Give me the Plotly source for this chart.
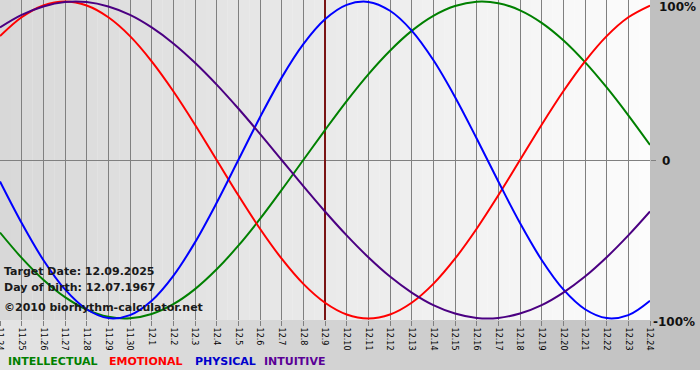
import plotly.graph_objects as go

# ---- data (values in %, one per day) ----
day_labels = ["11.24", "11.25", "11.26", "11.27", "11.28", "11.29", "11.30",
              "12.1", "12.2", "12.3", "12.4", "12.5", "12.6", "12.7", "12.8", "12.9",
              "12.10", "12.11", "12.12", "12.13", "12.14", "12.15", "12.16", "12.17",
              "12.18", "12.19", "12.20", "12.21", "12.22", "12.23", "12.24"]
target_label = "12.9"

intellectual = [-45.8, -61.8, -75.6, -86.6, -94.5, -99.0, -99.9, -97.2, -91.0, -81.5,
                -69.0, -54.1, -37.2, -18.9, 0.0, 18.9, 37.2, 54.1, 69.0, 81.5,
                91.0, 97.2, 99.9, 99.0, 94.5, 86.6, 75.6, 61.8, 45.8, 28.2, 9.5]
emotional = [78.2, 90.1, 97.5, 100.0, 97.5, 90.1, 78.2, 62.3, 43.4, 22.3,
             0.0, -22.3, -43.4, -62.3, -78.2, -90.1, -97.5, -100.0, -97.5, -90.1,
             -78.2, -62.3, -43.4, -22.3, 0.0, 22.3, 43.4, 62.3, 78.2, 90.1, 97.5]
physical = [-13.6, -39.8, -63.1, -81.7, -94.2, -99.8, -97.9, -88.8, -73.1, -52.0,
            -27.0, 0.0, 27.0, 52.0, 73.1, 88.8, 97.9, 99.8, 94.2, 81.7,
            63.1, 39.8, 13.6, -13.6, -39.8, -63.1, -81.7, -94.2, -99.8, -97.9, -88.8]
intuitive = [83.7, 91.6, 96.9, 99.7, 99.7, 96.9, 91.6, 83.7, 73.6, 61.4,
             47.6, 32.5, 16.5, 0.0, -16.5, -32.5, -47.6, -61.4, -73.6, -83.7,
             -91.6, -96.9, -99.7, -99.7, -96.9, -91.6, -83.7, -73.6, -61.4, -47.6, -32.5]

series_names = ["INTELLECTUAL", "EMOTIONAL", "PHYSICAL", "INTUITIVE"]
series_colors = ["#008000", "#ff0000", "#0000ff", "#4b0082"]
legend_colors = ["#008000", "#ff0000", "#0000cc", "#5a0096"]

info_lines = ["Target Date: 12.09.2025", "Day of birth: 12.07.1967",
              "\u00a92010 biorhythm-calculator.net"]

# ---- layout geometry ----
W, H = 700, 380
PL, PR, PT, PB = 0, 50, 0, 60
PW = W - PL - PR   # 650
PH = H - PT - PB   # 320


def px(x):
    return (x - PL) / PW


def py(y):
    return (PT + PH - y) / PH


def gray(v):
    v = int(round(v))
    return f"rgb({v},{v},{v})"


xs = list(range(len(day_labels)))
n = len(xs) - 1
t_idx = day_labels.index(target_label)

fig = go.Figure()

# target date marker
fig.add_trace(go.Scatter(x=[t_idx, t_idx], y=[-101, 101], mode="lines",
                         line=dict(color="#7a1414", width=2),
                         hoverinfo="skip", showlegend=False))

for name, vals, col in zip(series_names, [intellectual, emotional, physical, intuitive],
                           series_colors):
    fig.add_trace(go.Scatter(x=xs, y=vals, mode="lines", name=name,
                             line=dict(color=col, width=2, shape="spline", smoothing=1.0),
                             showlegend=False))

shapes = []
# plot-area gradient (left gray -> right white)
N = 60
for k in range(N):
    x0 = n * k / N
    x1 = n * (k + 1) / N
    c = 216 + (252 - 216) * (k + 0.5) / N
    shapes.append(dict(type="rect", xref="x", yref="y", x0=x0, x1=x1 + 0.01,
                       y0=-101, y1=101, fillcolor=gray(c), line=dict(width=0),
                       layer="below"))
# right margin gray
shapes.append(dict(type="rect", xref="paper", yref="paper", x0=px(650), x1=px(701),
                   y0=py(321), y1=py(-1), fillcolor="#c0c0c0", line=dict(width=0),
                   layer="below"))
# bottom band gradient
M = 70
for k in range(M):
    x0 = 700 * k / M
    x1 = 700 * (k + 1) / M
    c = 228 + (192 - 228) * (k + 0.5) / M
    shapes.append(dict(type="rect", xref="paper", yref="paper", x0=px(x0), x1=px(x1 + 0.5),
                       y0=py(370), y1=py(320), fillcolor=gray(c), line=dict(width=0),
                       layer="below"))

annotations = []
# info text in plot
for i, txt in enumerate(info_lines):
    yy = [271, 287, 307][i]
    annotations.append(dict(text="<b>%s</b>" % txt, xref="paper", yref="paper",
                            x=px(2), y=py(yy),
                            xanchor="left", yanchor="middle", showarrow=False,
                            font=dict(family="DejaVu Sans", size=11, color="#1a1a1a"),
                            ))
# right-side percentage labels
for txt, xx, yy in [("100%", 657, 7), ("0", 660, 161), ("-100%", 651, 322)]:
    annotations.append(dict(text="<b>%s</b>" % txt, xref="paper", yref="paper",
                            x=px(xx), y=py(yy), xanchor="left", yanchor="middle",
                            showarrow=False,
                            font=dict(family="DejaVu Sans", size=12, color="#111111")))
# legend row
for txt, xx, col in zip(series_names, [6, 107, 193, 262], legend_colors):
    annotations.append(dict(text="<b>%s</b>" % txt, xref="paper", yref="paper",
                            x=px(xx), y=py(361), xanchor="left", yanchor="middle",
                            showarrow=False,
                            font=dict(family="DejaVu Sans", size=11, color=col)))

fig.update_layout(
    width=W, height=H,
    margin=dict(l=PL, r=PR, t=PT, b=PB, pad=0, autoexpand=False),
    paper_bgcolor="#ffffff",
    plot_bgcolor="rgba(0,0,0,0)",
    shapes=shapes,
    annotations=annotations,
    showlegend=False,
    xaxis=dict(range=[0, n], tickmode="array", tickvals=xs, ticktext=day_labels,
               tickangle=90, showgrid=True, gridcolor="#808080", gridwidth=1,
               ticks="outside", ticklen=5, tickcolor="#808080", tickwidth=1,
               zeroline=False, showline=False, automargin=False,
               ticklabeloverflow="allow",
               tickfont=dict(family="DejaVu Sans", size=8, color="#000000")),
    yaxis=dict(range=[-101, 101], showgrid=False, zeroline=True,
               zerolinecolor="#808080", zerolinewidth=1, side="right",
               tickvals=[0], ticks="outside", ticklen=5, tickcolor="#808080",
               showticklabels=False, showline=False, automargin=False),
)

fig.write_html("out.html", config={"displayModeBar": False},
               post_script="document.body.style.margin='0';document.body.style.padding='0';")
